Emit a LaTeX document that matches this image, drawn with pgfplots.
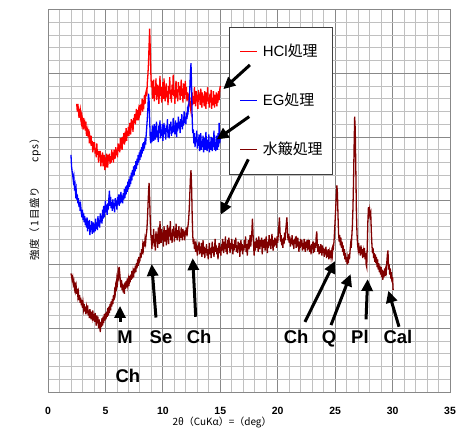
\documentclass[border=0pt]{standalone}
\usepackage{pgfplots}
\pgfplotsset{compat=1.18}
\usepackage{fontspec}
\setmainfont{Liberation Sans}
\newfontfamily\jp{Noto Sans CJK JP}
\newfontfamily\jpsp[LetterSpace=9]{Noto Sans CJK JP}
\usetikzlibrary{arrows.meta}
\definecolor{hclred}{RGB}{255,0,0}
\definecolor{egblue}{RGB}{0,0,255}
\definecolor{suihi}{RGB}{128,0,0}
\definecolor{majg}{RGB}{136,136,136}
\definecolor{ming}{RGB}{192,192,192}
\definecolor{legframe}{RGB}{64,64,64}
\begin{document}
\begin{tikzpicture}
\path[use as bounding box] (-48bp,-40bp) rectangle (416bp,392bp);
\begin{axis}[
  at={(0,0)}, anchor=south west,
  width=402bp, height=382.5bp, scale only axis,
  xmin=0, xmax=35, ymin=0, ymax=30,
  xtick={0,5,...,35}, ytick={0,5,...,30}, yticklabels={},
  minor x tick num=4, minor y tick num=4,
  grid=both,
  major grid style={majg, line width=0.8pt},
  minor grid style={ming, line width=0.8pt},
  axis line style={majg, line width=0.8pt},
  major tick length=0pt, minor tick length=0pt,
  /pgf/number format/assume math mode=true,
  xticklabel style={font=\bfseries\fontsize{10.5}{12}\selectfont, anchor=center, yshift=-19bp},
  legend style={at={(rel axis cs:0.451,0.955)}, anchor=north west, draw=legframe, fill=white, line width=0.8pt,
    font=\fontsize{15}{18}\selectfont, row sep=36bp, inner xsep=10bp, inner ysep=18bp,
    nodes={inner sep=0pt, text height=11bp, text depth=2bp},
    /tikz/every odd column/.append style={column sep=5bp}},
  legend cell align=left,
  legend image code/.code={\draw[line width=1.2pt, #1] (0bp,0bp) -- (17bp,0bp);},
  clip=false,
]
\addlegendimage{draw=hclred, line width=1.2pt}
\addlegendentry{HCl{\jp 処理}}
\addlegendimage{draw=egblue, line width=1.2pt}
\addlegendentry{EG{\jp 処理}}
\addlegendimage{draw=suihi, line width=1.2pt}
\addlegendentry{{\jp 水簸処理}}
\addplot[forget plot, color=hclred, line width=1.3bp] coordinates {
(2.50,22.6)(2.55,22.0)(2.60,22.6)(2.65,22.1)(2.70,21.5)(2.75,22.0)(2.80,22.2)(2.85,21.4)(2.90,21.1)(2.95,21.7)
(3.00,21.4)(3.05,20.6)(3.10,21.5)(3.15,20.9)(3.20,21.1)(3.25,20.5)(3.30,21.2)(3.35,20.1)(3.40,20.4)(3.45,20.6)
(3.50,20.0)(3.55,20.6)(3.60,19.5)(3.65,20.0)(3.70,19.7)(3.75,20.1)(3.80,19.3)(3.85,19.7)(3.90,18.8)(3.95,19.6)
(4.00,19.0)(4.05,19.6)(4.10,18.7)(4.15,19.1)(4.20,18.4)(4.25,19.5)(4.30,18.6)(4.35,18.9)(4.40,18.0)(4.45,18.9)
(4.50,18.4)(4.55,18.9)(4.60,17.7)(4.65,18.6)(4.70,18.0)(4.75,18.8)(4.80,17.7)(4.85,18.2)(4.90,18.6)(4.95,17.4)
(5.00,18.4)(5.05,17.6)(5.10,18.7)(5.15,18.0)(5.20,17.6)(5.25,18.6)(5.30,18.1)(5.35,18.7)(5.40,17.9)(5.45,18.5)
(5.50,18.0)(5.55,19.0)(5.60,18.2)(5.65,18.8)(5.70,18.0)(5.75,19.0)(5.80,18.6)(5.85,18.3)(5.90,19.2)(5.95,18.6)
(6.00,19.0)(6.05,18.4)(6.10,19.5)(6.15,18.9)(6.20,19.4)(6.25,18.8)(6.30,19.9)(6.35,19.1)(6.40,19.5)(6.45,19.0)
(6.50,20.0)(6.55,19.5)(6.60,20.3)(6.65,19.4)(6.70,20.1)(6.75,19.9)(6.80,20.7)(6.85,19.7)(6.90,20.5)(6.95,20.1)
(7.00,20.8)(7.05,20.1)(7.10,21.1)(7.15,20.6)(7.20,20.2)(7.25,21.4)(7.30,20.7)(7.35,21.3)(7.40,20.4)(7.45,21.5)
(7.50,21.1)(7.55,21.8)(7.60,21.0)(7.65,21.6)(7.70,22.2)(7.75,21.3)(7.80,22.1)(7.85,21.3)(7.90,22.1)(7.95,21.8)
(8.00,22.5)(8.05,21.7)(8.10,22.6)(8.15,22.1)(8.20,23.0)(8.25,22.0)(8.30,22.9)(8.35,22.6)(8.40,23.3)(8.45,22.6)
(8.50,23.4)(8.55,23.6)(8.60,23.2)(8.65,24.3)(8.70,24.9)(8.75,25.8)(8.80,27.2)(8.85,28.5)(8.90,27.0)(8.95,25.1)
(9.00,23.9)(9.05,24.4)(9.10,23.0)(9.15,23.6)(9.20,24.5)(9.25,22.8)(9.30,23.9)(9.35,23.3)(9.40,24.6)(9.45,22.9)
(9.50,23.4)(9.55,24.1)(9.60,23.7)(9.65,22.6)(9.70,23.5)(9.75,24.8)(9.80,23.2)(9.85,23.9)(9.90,22.7)(9.95,23.3)
(10.00,24.3)(10.05,23.0)(10.10,24.6)(10.15,23.5)(10.20,22.8)(10.25,23.8)(10.30,24.2)(10.35,23.1)(10.40,23.6)(10.45,22.5)
(10.50,24.0)(10.55,23.4)(10.60,24.7)(10.65,23.0)(10.70,23.7)(10.75,22.7)(10.80,24.1)(10.85,23.3)(10.90,24.9)(10.95,23.2)
(11.00,23.6)(11.05,22.6)(11.10,23.9)(11.15,24.4)(11.20,23.1)(11.25,23.7)(11.30,22.8)(11.35,24.3)(11.40,23.5)(11.45,24.0)
(11.50,22.9)(11.55,23.6)(11.60,24.5)(11.65,23.2)(11.70,23.8)(11.75,22.7)(11.80,24.2)(11.85,23.4)(11.90,23.0)(11.95,24.4)
(12.00,23.3)(12.05,23.9)(12.10,22.8)(12.15,23.5)(12.20,22.9)(12.25,23.4)(12.30,22.4)(12.35,23.1)(12.40,22.3)(12.45,22.0)
(12.50,22.7)(12.55,23.5)(12.60,22.5)(12.65,23.2)(12.70,22.6)(12.75,23.9)(12.80,23.0)(12.85,22.4)(12.90,23.6)(12.95,22.8)
(13.00,23.3)(13.05,22.2)(13.10,23.7)(13.15,22.9)(13.20,23.4)(13.25,22.5)(13.30,23.8)(13.35,23.1)(13.40,22.3)(13.45,23.5)
(13.50,22.7)(13.55,23.2)(13.60,22.4)(13.65,23.6)(13.70,22.9)(13.75,22.2)(13.80,23.5)(13.85,22.8)(13.90,23.9)(13.95,22.6)
(14.00,23.1)(14.05,22.3)(14.10,23.4)(14.15,22.7)(14.20,23.7)(14.25,22.2)(14.30,23.0)(14.35,22.5)(14.40,23.6)(14.45,22.9)
(14.50,22.3)(14.55,23.3)(14.60,22.6)(14.65,23.5)(14.70,22.4)(14.75,23.0)(14.80,22.7)(14.85,23.6)(14.90,22.9)(14.95,23.7)
(15.00,24.0)
};
\addplot[forget plot, color=egblue, line width=1.3bp] coordinates {
(2.00,18.6)(2.05,17.7)(2.10,17.3)(2.15,17.0)(2.20,16.6)(2.25,16.9)(2.30,16.1)(2.35,16.3)(2.40,15.6)(2.45,15.9)
(2.50,15.1)(2.55,15.5)(2.60,14.8)(2.65,15.2)(2.70,14.5)(2.75,14.9)(2.80,14.2)(2.85,14.6)(2.90,14.1)(2.95,13.7)
(3.00,14.3)(3.05,13.5)(3.10,14.0)(3.15,13.3)(3.20,13.8)(3.25,13.1)(3.30,13.6)(3.35,12.9)(3.40,13.7)(3.45,12.6)
(3.50,13.4)(3.55,12.8)(3.60,13.5)(3.65,12.3)(3.70,13.1)(3.75,12.7)(3.80,13.4)(3.85,12.4)(3.90,12.9)(3.95,13.3)
(4.00,12.5)(4.05,13.2)(4.10,12.6)(4.15,13.6)(4.20,12.8)(4.25,13.3)(4.30,12.7)(4.35,13.8)(4.40,13.0)(4.45,13.5)
(4.50,12.9)(4.55,14.0)(4.60,13.3)(4.65,13.8)(4.70,13.2)(4.75,14.3)(4.80,13.6)(4.85,14.6)(4.90,13.7)(4.95,14.2)
(5.00,15.0)(5.05,14.1)(5.10,14.7)(5.15,13.9)(5.20,14.8)(5.25,14.3)(5.30,15.2)(5.35,15.8)(5.40,14.6)(5.45,15.3)
(5.50,14.4)(5.55,14.9)(5.60,14.2)(5.65,15.1)(5.70,14.4)(5.75,14.8)(5.80,14.1)(5.85,15.2)(5.90,14.6)(5.95,15.0)
(6.00,14.3)(6.05,15.3)(6.10,14.7)(6.15,15.5)(6.20,14.6)(6.25,15.1)(6.30,14.8)(6.35,15.7)(6.40,14.9)(6.45,15.4)
(6.50,14.8)(6.55,15.6)(6.60,15.1)(6.65,15.9)(6.70,15.2)(6.75,16.1)(6.80,15.5)(6.85,16.2)(6.90,15.7)(6.95,16.5)
(7.00,15.9)(7.05,16.7)(7.10,16.1)(7.15,16.9)(7.20,16.3)(7.25,17.2)(7.30,16.6)(7.35,17.4)(7.40,16.9)(7.45,17.7)
(7.50,17.0)(7.55,17.8)(7.60,17.3)(7.65,18.1)(7.70,17.5)(7.75,18.3)(7.80,17.8)(7.85,18.6)(7.90,18.0)(7.95,18.8)
(8.00,18.2)(8.05,19.0)(8.10,18.4)(8.15,19.2)(8.20,18.7)(8.25,19.5)(8.30,18.9)(8.35,19.6)(8.40,19.1)(8.45,19.9)
(8.50,19.4)(8.55,20.2)(8.60,20.8)(8.65,21.5)(8.70,22.3)(8.75,23.4)(8.80,22.9)(8.85,21.4)(8.90,19.9)(8.95,19.5)
(9.00,20.4)(9.05,19.6)(9.10,20.9)(9.15,20.2)(9.20,19.7)(9.25,21.0)(9.30,20.4)(9.35,19.8)(9.40,20.7)(9.45,21.2)
(9.50,20.0)(9.55,20.5)(9.60,19.6)(9.65,20.9)(9.70,20.3)(9.75,21.3)(9.80,19.9)(9.85,20.6)(9.90,20.1)(9.95,21.0)
(10.00,19.7)(10.05,20.4)(10.10,21.1)(10.15,20.2)(10.20,20.7)(10.25,19.8)(10.30,20.9)(10.35,20.4)(10.40,21.4)(10.45,20.0)
(10.50,20.6)(10.55,19.9)(10.60,21.0)(10.65,20.5)(10.70,21.2)(10.75,20.1)(10.80,20.8)(10.85,20.3)(10.90,21.5)(10.95,20.4)
(11.00,20.9)(11.05,20.2)(11.10,21.3)(11.15,20.6)(11.20,20.0)(11.25,21.1)(11.30,20.5)(11.35,21.6)(11.40,20.7)(11.45,21.2)
(11.50,20.3)(11.55,21.4)(11.60,20.8)(11.65,21.8)(11.70,20.6)(11.75,21.3)(11.80,20.9)(11.85,22.0)(11.90,21.1)(11.95,21.6)
(12.00,21.0)(12.05,21.9)(12.10,21.4)(12.15,22.2)(12.20,22.0)(12.25,22.4)(12.30,23.0)(12.35,23.9)(12.40,25.0)(12.45,25.8)
(12.50,24.0)(12.55,21.6)(12.60,20.3)(12.65,20.6)(12.70,19.5)(12.75,20.3)(12.80,19.2)(12.85,20.0)(12.90,19.6)(12.95,20.5)
(13.00,19.1)(13.05,19.8)(13.10,19.3)(13.15,20.2)(13.20,18.9)(13.25,19.6)(13.30,20.3)(13.35,19.0)(13.40,19.7)(13.45,19.2)
(13.50,20.1)(13.55,18.8)(13.60,19.5)(13.65,19.9)(13.70,19.0)(13.75,20.4)(13.80,19.3)(13.85,18.9)(13.90,19.8)(13.95,19.1)
(14.00,20.2)(14.05,18.8)(14.10,19.6)(14.15,19.0)(14.20,20.0)(14.25,19.3)(14.30,18.9)(14.35,19.9)(14.40,19.2)(14.45,20.5)
(14.50,19.0)(14.55,19.6)(14.60,18.9)(14.65,20.1)(14.70,19.4)(14.75,19.0)(14.80,20.3)(14.85,19.2)(14.90,21.1)(14.95,19.5)
(15.00,19.9)
};
\addplot[forget plot, color=suihi, line width=1.3bp] coordinates {
(2.00,9.3)(2.05,9.1)(2.10,8.8)(2.15,9.0)(2.20,8.5)(2.25,8.7)(2.30,8.2)(2.35,8.6)(2.40,8.0)(2.45,8.3)
(2.50,7.7)(2.55,8.1)(2.60,7.5)(2.65,7.8)(2.70,7.2)(2.75,7.6)(2.80,7.0)(2.85,7.4)(2.90,6.8)(2.95,7.2)
(3.00,6.6)(3.05,7.0)(3.10,6.5)(3.15,6.9)(3.20,6.3)(3.25,6.7)(3.30,6.1)(3.35,6.6)(3.40,6.2)(3.45,6.8)
(3.50,6.0)(3.55,6.4)(3.60,5.8)(3.65,6.5)(3.70,6.1)(3.75,5.7)(3.80,6.3)(3.85,5.9)(3.90,6.4)(3.95,5.6)
(4.00,6.1)(4.05,5.5)(4.10,6.2)(4.15,5.7)(4.20,5.2)(4.25,6.0)(4.30,5.4)(4.35,5.9)(4.40,5.0)(4.45,5.7)
(4.50,5.3)(4.55,4.7)(4.60,5.5)(4.65,5.1)(4.70,5.8)(4.75,5.2)(4.80,5.9)(4.85,5.4)(4.90,6.1)(4.95,5.6)
(5.00,6.2)(5.05,5.7)(5.10,6.3)(5.15,5.9)(5.20,6.6)(5.25,6.0)(5.30,6.7)(5.35,6.2)(5.40,6.9)(5.45,6.4)
(5.50,7.1)(5.55,6.7)(5.60,7.3)(5.65,6.9)(5.70,7.6)(5.75,7.2)(5.80,7.9)(5.85,7.7)(5.90,8.4)(5.95,8.2)
(6.00,8.9)(6.05,8.6)(6.10,9.4)(6.15,9.1)(6.20,9.8)(6.25,9.3)(6.30,8.7)(6.35,8.2)(6.40,8.8)(6.45,8.0)
(6.50,8.5)(6.55,7.8)(6.60,8.4)(6.65,7.7)(6.70,8.6)(6.75,8.1)(6.80,8.7)(6.85,8.2)(6.90,8.9)(6.95,8.4)
(7.00,8.8)(7.05,8.3)(7.10,9.1)(7.15,8.6)(7.20,9.2)(7.25,8.8)(7.30,9.5)(7.35,8.9)(7.40,9.4)(7.45,9.0)
(7.50,9.7)(7.55,9.3)(7.60,9.9)(7.65,9.4)(7.70,10.1)(7.75,9.7)(7.80,10.4)(7.85,9.9)(7.90,10.6)(7.95,10.2)
(8.00,10.3)(8.05,10.9)(8.10,10.5)(8.15,11.2)(8.20,10.8)(8.25,11.5)(8.30,11.2)(8.35,11.8)(8.40,11.4)(8.45,12.0)
(8.50,11.7)(8.55,12.3)(8.60,12.6)(8.65,13.4)(8.70,14.5)(8.75,15.6)(8.80,16.4)(8.85,15.2)(8.90,13.5)(8.95,12.4)
(9.00,11.9)(9.05,11.2)(9.10,12.3)(9.15,11.7)(9.20,12.8)(9.25,11.4)(9.30,12.0)(9.35,11.1)(9.40,12.6)(9.45,11.8)
(9.50,12.4)(9.55,11.3)(9.60,12.9)(9.65,12.1)(9.70,11.6)(9.75,13.4)(9.80,12.2)(9.85,11.7)(9.90,12.8)(9.95,11.9)
(10.00,12.5)(10.05,11.4)(10.10,13.0)(10.15,12.3)(10.20,11.8)(10.25,12.7)(10.30,11.5)(10.35,12.4)(10.40,13.1)(10.45,12.0)
(10.50,11.6)(10.55,12.9)(10.60,12.2)(10.65,13.4)(10.70,11.9)(10.75,12.5)(10.80,11.7)(10.85,12.8)(10.90,12.2)(10.95,13.0)
(11.00,11.8)(11.05,12.6)(11.10,12.1)(11.15,13.2)(11.20,12.4)(11.25,11.9)(11.30,12.7)(11.35,12.2)(11.40,13.0)(11.45,11.8)
(11.50,12.5)(11.55,12.1)(11.60,12.9)(11.65,12.3)(11.70,11.9)(11.75,12.8)(11.80,12.2)(11.85,12.6)(11.90,11.9)(11.95,12.7)
(12.00,12.3)(12.05,12.9)(12.10,12.2)(12.15,12.8)(12.20,13.1)(12.25,13.6)(12.30,14.4)(12.35,15.6)(12.40,16.8)(12.45,17.4)
(12.50,16.2)(12.55,14.0)(12.60,12.3)(12.65,11.6)(12.70,12.0)(12.75,11.2)(12.80,11.8)(12.85,11.0)(12.90,11.6)(12.95,11.3)
(13.00,10.7)(13.05,11.5)(13.10,11.1)(13.15,11.8)(13.20,10.8)(13.25,11.4)(13.30,10.9)(13.35,11.7)(13.40,10.6)(13.45,11.2)
(13.50,11.9)(13.55,10.8)(13.60,11.4)(13.65,10.5)(13.70,11.3)(13.75,10.9)(13.80,11.6)(13.85,10.7)(13.90,11.2)(13.95,10.4)
(14.00,11.0)(14.05,11.7)(14.10,10.8)(14.15,11.3)(14.20,10.5)(14.25,11.1)(14.30,11.8)(14.35,10.9)(14.40,11.4)(14.45,10.6)
(14.50,11.2)(14.55,12.0)(14.60,11.0)(14.65,11.5)(14.70,10.8)(14.75,11.3)(14.80,10.4)(14.85,11.1)(14.90,11.7)(14.95,10.9)
(15.00,11.4)(15.05,10.7)(15.10,11.6)(15.15,11.1)(15.20,12.0)(15.25,11.3)(15.30,10.9)(15.35,11.8)(15.40,11.2)(15.45,12.2)
(15.50,11.0)(15.55,11.6)(15.60,10.8)(15.65,11.9)(15.70,11.3)(15.75,12.1)(15.80,11.5)(15.85,10.9)(15.90,11.7)(15.95,11.2)
(16.00,12.0)(16.05,11.4)(16.10,10.8)(16.15,11.6)(16.20,11.1)(16.25,11.9)(16.30,11.3)(16.35,12.1)(16.40,11.0)(16.45,11.5)
(16.50,10.9)(16.55,11.8)(16.60,11.2)(16.65,11.7)(16.70,10.6)(16.75,11.4)(16.80,11.9)(16.85,11.1)(16.90,11.6)(16.95,10.8)
(17.00,11.5)(17.05,11.1)(17.10,11.9)(17.15,11.3)(17.20,12.2)(17.25,11.0)(17.30,11.6)(17.35,10.7)(17.40,11.4)(17.45,11.9)
(17.50,11.2)(17.55,11.7)(17.60,12.3)(17.65,11.4)(17.70,12.0)(17.75,12.6)(17.80,13.6)(17.85,12.4)(17.90,11.5)(17.95,10.7)
(18.00,11.8)(18.05,11.1)(18.10,11.6)(18.15,12.1)(18.20,11.3)(18.25,11.9)(18.30,11.0)(18.35,12.2)(18.40,11.6)(18.45,11.2)
(18.50,11.9)(18.55,11.4)(18.60,12.1)(18.65,10.8)(18.70,11.5)(18.75,11.9)(18.80,11.3)(18.85,12.0)(18.90,11.1)(18.95,11.7)
(19.00,12.2)(19.05,11.4)(19.10,10.9)(19.15,11.8)(19.20,11.3)(19.25,12.3)(19.30,11.5)(19.35,12.0)(19.40,11.2)(19.45,11.8)
(19.50,12.4)(19.55,11.6)(19.60,11.1)(19.65,11.9)(19.70,11.4)(19.75,12.1)(19.80,11.5)(19.85,12.0)(19.90,11.3)(19.95,12.2)
(20.00,11.7)(20.05,12.4)(20.10,13.0)(20.15,13.7)(20.20,12.6)(20.25,11.8)(20.30,12.3)(20.35,11.5)(20.40,12.0)(20.45,11.3)
(20.50,12.1)(20.55,11.6)(20.60,12.5)(20.65,11.9)(20.70,12.7)(20.75,13.2)(20.80,13.7)(20.85,12.6)(20.90,11.9)(20.95,12.4)
(21.00,11.7)(21.05,12.2)(21.10,11.4)(21.15,12.0)(21.20,11.6)(21.25,12.3)(21.30,11.5)(21.35,11.9)(21.40,11.2)(21.45,12.0)
(21.50,11.6)(21.55,12.2)(21.60,11.3)(21.65,11.8)(21.70,11.4)(21.75,12.1)(21.80,11.5)(21.85,11.0)(21.90,11.8)(21.95,11.3)
(22.00,12.0)(22.05,11.4)(22.10,11.9)(22.15,11.1)(22.20,11.7)(22.25,11.2)(22.30,12.0)(22.35,11.5)(22.40,11.0)(22.45,11.8)
(22.50,11.3)(22.55,11.9)(22.60,11.1)(22.65,11.6)(22.70,11.2)(22.75,11.9)(22.80,11.0)(22.85,11.5)(22.90,10.8)(22.95,11.6)
(23.00,11.2)(23.05,11.8)(23.10,10.9)(23.15,11.4)(23.20,11.0)(23.25,11.7)(23.30,11.3)(23.35,12.2)(23.40,12.6)(23.45,11.5)
(23.50,11.0)(23.55,11.6)(23.60,10.8)(23.65,11.4)(23.70,10.9)(23.75,11.6)(23.80,11.1)(23.85,10.7)(23.90,11.5)(23.95,10.9)
(24.00,11.3)(24.05,10.6)(24.10,11.2)(24.15,10.8)(24.20,11.4)(24.25,10.5)(24.30,11.1)(24.35,10.6)(24.40,11.2)(24.45,10.4)
(24.50,10.9)(24.55,10.5)(24.60,11.1)(24.65,10.6)(24.70,11.0)(24.75,10.7)(24.80,11.4)(24.85,11.3)(24.90,11.8)(24.95,12.6)
(25.00,13.5)(25.05,14.4)(25.10,15.4)(25.15,16.2)(25.20,15.6)(25.25,13.8)(25.30,12.4)(25.35,11.8)(25.40,12.3)(25.45,11.5)
(25.50,12.1)(25.55,11.3)(25.60,11.8)(25.65,11.0)(25.70,11.5)(25.75,10.7)(25.80,11.2)(25.85,10.4)(25.90,10.9)(25.95,10.2)
(26.00,10.6)(26.05,10.0)(26.10,10.5)(26.15,10.1)(26.20,10.8)(26.25,10.4)(26.30,11.1)(26.35,11.6)(26.40,11.3)(26.45,12.2)
(26.50,13.0)(26.55,14.4)(26.60,16.5)(26.65,19.2)(26.70,21.6)(26.75,20.6)(26.80,17.5)(26.85,14.2)(26.90,12.5)(26.95,11.6)
(27.00,11.2)(27.05,11.7)(27.10,10.9)(27.15,11.4)(27.20,10.7)(27.25,11.5)(27.30,10.8)(27.35,11.2)(27.40,10.5)(27.45,11.0)
(27.50,10.6)(27.55,11.3)(27.60,10.4)(27.65,10.9)(27.70,10.0)(27.75,9.8)(27.80,11.6)(27.85,13.4)(27.90,14.5)(27.95,14.0)
(28.00,14.3)(28.05,13.8)(28.10,14.0)(28.15,12.6)(28.20,11.6)(28.25,10.9)(28.30,11.3)(28.35,10.5)(28.40,10.9)(28.45,10.2)
(28.50,10.8)(28.55,10.1)(28.60,10.6)(28.65,9.8)(28.70,10.4)(28.75,9.6)(28.80,10.1)(28.85,9.4)(28.90,9.9)(28.95,9.2)
(29.00,9.8)(29.05,9.0)(29.10,9.6)(29.15,8.8)(29.20,9.5)(29.25,9.0)(29.30,9.7)(29.35,9.1)(29.40,9.6)(29.45,9.4)
(29.50,10.2)(29.55,10.8)(29.60,11.1)(29.65,9.6)(29.70,10.0)(29.75,9.2)(29.80,9.7)(29.85,8.9)(29.90,9.4)(29.95,8.6)
(30.00,9.0)(30.05,8.0)
};
\coordinate (h1) at (axis cs:17.58,25.65); \coordinate (h2) at (axis cs:15.26,23.75);
\coordinate (e1) at (axis cs:17.52,21.6);  \coordinate (e2) at (axis cs:14.68,19.8);
\coordinate (s1) at (axis cs:17.44,18.25); \coordinate (s2) at (axis cs:15.03,13.9);
\coordinate (m1) at (axis cs:6.27,5.5);    \coordinate (m2) at (axis cs:6.27,6.75);
\coordinate (se1) at (axis cs:9.4,5.84);   \coordinate (se2) at (axis cs:9.03,10.04);
\coordinate (c1) at (axis cs:12.86,5.9);   \coordinate (c2) at (axis cs:12.6,10.5);
\coordinate (cc1) at (axis cs:22.37,5.5);  \coordinate (cc2) at (axis cs:24.99,10.27);
\coordinate (q1) at (axis cs:24.64,5.25);  \coordinate (q2) at (axis cs:26.35,9.25);
\coordinate (p1) at (axis cs:27.69,5.7);   \coordinate (p2) at (axis cs:27.83,8.86);
\coordinate (ca1) at (axis cs:30.56,5.12); \coordinate (ca2) at (axis cs:29.63,7.95);
\coordinate (lbM) at (axis cs:6.7,3.79);
\coordinate (lbCh2) at (axis cs:6.96,0.73);
\coordinate (lbSe) at (axis cs:9.84,3.79);
\coordinate (lbCh) at (axis cs:13.15,3.79);
\coordinate (lbChb) at (axis cs:21.6,3.79);
\coordinate (lbQ) at (axis cs:24.46,3.79);
\coordinate (lbPl) at (axis cs:27.16,3.79);
\coordinate (lbCal) at (axis cs:30.47,3.79);
\coordinate (xl) at (rel axis cs:0.433,-0.0797);
\coordinate (yl) at (rel axis cs:-0.0323,0.51);
\end{axis}
\tikzset{arr/.style={line width=3bp, -{Triangle[length=12bp,width=11bp]}}}
\foreach \a/\b in {h1/h2,e1/e2,s1/s2,m1/m2,se1/se2,c1/c2,cc1/cc2,q1/q2,p1/p2,ca1/ca2}
  \draw[arr] (\a) -- (\b);
\begin{scope}[every node/.style={font=\bfseries\fontsize{18.5}{20}\selectfont, inner sep=0pt, anchor=base}]
\node at (lbM) {M};
\node at (lbCh2) {Ch};
\node at (lbSe) {Se};
\node at (lbCh) {Ch};
\node at (lbChb) {Ch};
\node at (lbQ) {Q};
\node at (lbPl) {Pl};
\node at (lbCal) {Cal};
\end{scope}
\node[font=\jp\fontsize{10}{12}\selectfont, anchor=center] at (xl) {2θ（CuKα）=（deg）};
\node[font=\jpsp\fontsize{10.5}{12}\selectfont, anchor=center, rotate=90] at (yl) {強度（1目盛り　　cps）};
\end{tikzpicture}
\end{document}
